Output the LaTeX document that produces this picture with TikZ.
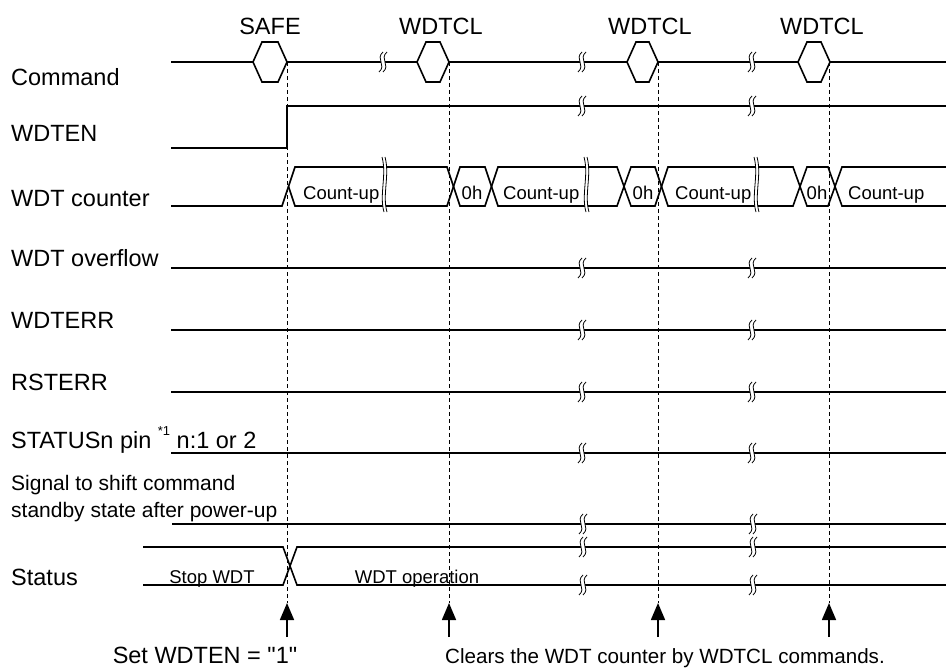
\documentclass[tikz,border=0pt]{standalone}
\usepackage{fontspec}
\setmainfont{Liberation Sans}[Ligatures=TeXOff]
\usetikzlibrary{arrows.meta}
\tikzstyle{sig}=[line width=1.6pt]
\tikzstyle{guide}=[line width=0.7pt, dash pattern=on 4pt off 3pt]
\tikzstyle{signame}=[anchor=base west, inner sep=0pt, font=\fontsize{23.5}{28}\selectfont]
\tikzstyle{cmdname}=[anchor=base, inner sep=0pt, font=\fontsize{23.5}{28}\selectfont]
\tikzstyle{val}=[anchor=base, inner sep=0pt, font=\fontsize{18.5}{22}\selectfont]
\tikzstyle{up}=[line width=1.6pt, -{Triangle[length=17pt,width=14pt]}]

% break symbol on a single line
\newcommand{\brkmark}[2]{%
  \begin{scope}[shift={(#1,#2)}]
    \fill[white] (1,-10) .. controls (-7,-3) and (5,3) .. (-3,10) -- (1,10) .. controls (9,3) and (-3,-3) .. (5,-10) -- cycle;
    \draw[line width=0.8pt] (1,-10) .. controls (-7,-3) and (5,3) .. (-3,10);
    \draw[line width=0.8pt] (5,-10) .. controls (-3,-3) and (9,3) .. (1,10);
  \end{scope}}
% break symbol on the counter bus
\newcommand{\busbrk}[1]{%
  \begin{scope}[shift={(#1,0)}]
    \fill[white] (-1,157) .. controls (4,175) and (-4,195) .. (1,212) -- (4,212) .. controls (-1,195) and (7,175) .. (2,157) -- cycle;
    \draw[line width=0.8pt] (-1,157) .. controls (4,175) and (-4,195) .. (1,212);
    \draw[line width=0.8pt] (2,157) .. controls (7,175) and (-1,195) .. (4,212);
  \end{scope}}
% command hexagon
\newcommand{\hexa}[2]{%
  \filldraw[sig,fill=white] (#1,62) -- (#1+9,42) -- (#2-9,42) -- (#2,62) -- (#2-9,82) -- (#1+9,82) -- cycle;}

\begin{document}
\begin{tikzpicture}[x=1pt,y=-1pt]
\useasboundingbox (0,0) rectangle (946,669);

% signal names
\node[signame] (ncmd) at (11,85) {Command};
\node[signame] (nen) at (11,142) {WDTEN};
\node[signame] (ncnt) at (11,206) {WDT counter};
\node[signame] (novf) at (11,266) {WDT overflow};
\node[signame] (nerr) at (11,328) {WDTERR};
\node[signame] (nrst) at (11,390) {RSTERR};
\node[signame] (nstat) at (11,448) {STATUSn pin \raisebox{0.55em}{\fontsize{13}{13}\selectfont *1} n:1 or 2};
\node[signame, font=\fontsize{21}{25}\selectfont] (nsig1) at (11,490) {Signal to shift command};
\node[signame, font=\fontsize{21}{25}\selectfont] (nsig2) at (11,517) {standby state after power-up};
\node[signame] (nst) at (11,585) {Status};

% command line
\draw[sig] (171,62) -- (946,62);
\hexa{253}{287}
\hexa{417}{449}
\hexa{627}{658}
\hexa{798}{830}
\node[cmdname] (safe) at (270,35) {SAFE};
\node[cmdname] (clr1) at (441,35) {WDTCL};
\node[cmdname] (clr2) at (650,35) {WDTCL};
\node[cmdname] (clr3) at (822,35) {WDTCL};

% WDTEN
\draw[sig] (171,148) -- (287,148) -- (287,106) -- (946,106);

% WDT counter bus
\draw[sig] (171,206) -- (282,206) -- (295,167) -- (447,167) -- (460,206) -- (485,206) -- (498,167) -- (617,167) -- (631,206) -- (655,206) -- (668,167) -- (793,167) -- (807,206) -- (828,206) -- (842,167) -- (946,167);
\draw[sig] (288.5,186.5) -- (295,206) -- (447,206) -- (460,167) -- (485,167) -- (498,206) -- (617,206) -- (631,167) -- (655,167) -- (668,206) -- (793,206) -- (807,167) -- (828,167) -- (842,206) -- (946,206);
\busbrk{383}
\busbrk{585}
\busbrk{755}
\node[val, anchor=base west] (cu1) at (303,199) {Count-up};
\node[val, anchor=base west] (cu2) at (503,199) {Count-up};
\node[val, anchor=base west] (cu3) at (675,199) {Count-up};
\node[val, anchor=base west] (cu4) at (848,199) {Count-up};
\node[val] (z1) at (472,199) {0h};
\node[val] (z2) at (643,199) {0h};
\node[val] (z3) at (817,199) {0h};

% flat signals
\foreach \yy in {268,330,392,453} {
  \draw[sig] (171,\yy) -- (946,\yy);
}
\draw[sig] (172,524) -- (946,524);

% status bus
\draw[sig] (143,547) -- (283,547) -- (297,585) -- (946,585);
\draw[sig] (143,585) -- (283,585) -- (297,547) -- (946,547);
\node[val] (stop) at (212,583) {Stop WDT};
\node[val] (run) at (417,583) {WDT operation};

% break marks
\brkmark{382}{62}
\foreach \yy in {62,106,268,330,392,453} {
  \brkmark{581}{\yy}
  \brkmark{751}{\yy}
}
\foreach \yy in {524,547,585} {
  \brkmark{582}{\yy}
  \brkmark{752}{\yy}
}

% timing guides and arrows
\foreach \xx/\id in {287/a,449/b,658/c,829/d} {
  \coordinate (top\id) at (\xx,62);
  \coordinate (tip\id) at (\xx,603);
  \coordinate (tail\id) at (\xx,637);
  \draw[guide] (top\id) -- (tip\id);
  \draw[up] (tail\id) -- (tip\id);
}

\node[cmdname] (setlbl) at (205,663) {Set WDTEN = "1"};
\node[cmdname, font=\fontsize{20.6}{25}\selectfont] (clrlbl) at (665,663) {Clears the WDT counter by WDTCL commands.};
\end{tikzpicture}
\end{document}
